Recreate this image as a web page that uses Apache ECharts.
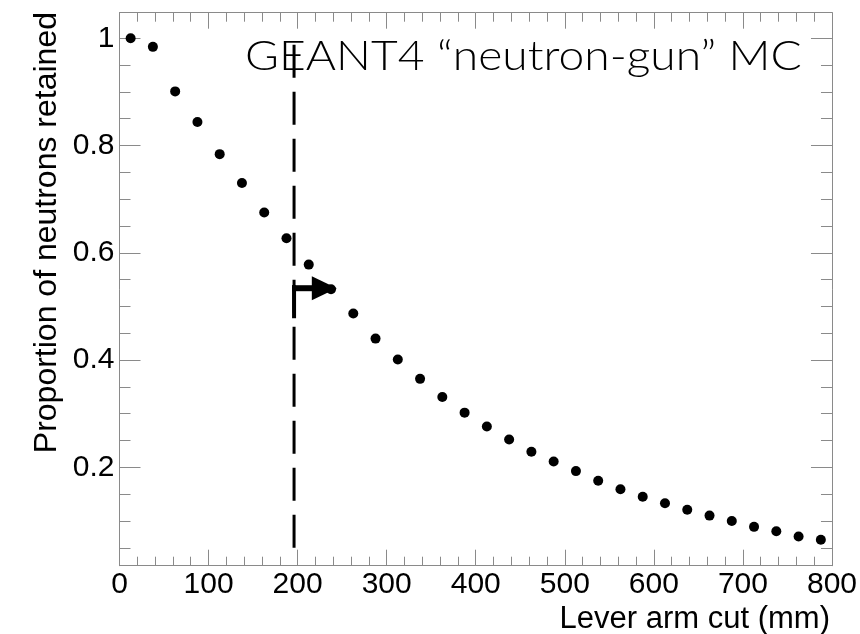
<!DOCTYPE html>
<html>
<head>
<meta charset="utf-8">
<script src="https://cdn.jsdelivr.net/npm/echarts@6/dist/echarts.min.js"></script>
<style>
  html, body { margin: 0; padding: 0; background: #fff; }
  #chart { width: 860px; height: 634px; }
</style>
</head>
<body>
<div id="chart"></div>
<script>
// Lever-arm cut (bin centres, mm) and fraction of neutrons kept
var cutValues = [12.5, 37.5, 62.5, 87.5, 112.5, 137.5, 162.5, 187.5, 212.5, 237.5,
                 262.5, 287.5, 312.5, 337.5, 362.5, 387.5, 412.5, 437.5, 462.5, 487.5,
                 512.5, 537.5, 562.5, 587.5, 612.5, 637.5, 662.5, 687.5, 712.5, 737.5,
                 762.5, 787.5];
var retained = [1.000, 0.984, 0.901, 0.844, 0.784, 0.730, 0.675, 0.627, 0.578, 0.532,
                0.487, 0.440, 0.401, 0.365, 0.331, 0.302, 0.276, 0.252, 0.229, 0.211,
                0.193, 0.175, 0.159, 0.145, 0.133, 0.121, 0.110, 0.100, 0.089, 0.081,
                0.071, 0.065];

// Axis ranges and tick positions
var xRange = [0, 800];
var yRange = [0.0166, 1.0477];
var yMajorTicks = [0.2, 0.4, 0.6, 0.8, 1.0];
var yMinorTicks = [0.05, 0.1, 0.15, 0.25, 0.3, 0.35, 0.45, 0.5, 0.55,
                   0.65, 0.7, 0.75, 0.85, 0.9, 0.95];

// Chosen cut (dashed line) and arrow marking the accepted side
var cutLine = [[196, 0.05], [196, 1.01]];
var arrowPath = [[196, 0.478], [196, 0.534], [244, 0.534]];

var titleText = 'GEANT4 \u201Cneutron-gun\u201D MC';
var xTitle = 'Lever arm cut (mm)';
var yTitle = 'Proportion of neutrons retained';

var frameColor = '#8a8a8a';
var labelFont = 'Liberation Sans, Arial, Helvetica, sans-serif';

var chart = echarts.init(document.getElementById('chart'), null, { renderer: 'canvas' });

function xAxisDef(pos, showLabels) {
  return {
    type: 'value', position: pos, min: xRange[0], max: xRange[1], interval: 100,
    axisLine: { show: true, onZero: false, lineStyle: { color: frameColor, width: 1 } },
    axisTick: { show: true, inside: true, length: 16, lineStyle: { color: frameColor, width: 1 } },
    minorTick: { show: true, splitNumber: 5, length: 9, lineStyle: { color: frameColor, width: 1 } },
    axisLabel: { show: showLabels, margin: 4, color: '#000', fontSize: 30, fontFamily: labelFont },
    splitLine: { show: false }
  };
}

function yAxisDef(pos, ticks, len, showLine, showLabels) {
  return {
    type: 'value', position: pos, min: yRange[0], max: yRange[1],
    axisLine: { show: showLine, onZero: false, lineStyle: { color: frameColor, width: 1 } },
    axisTick: { show: true, inside: true, length: len, customValues: ticks,
                lineStyle: { color: frameColor, width: 1 } },
    axisLabel: { show: showLabels, customValues: ticks, margin: 5, color: '#000',
                 fontSize: 30, fontFamily: labelFont },
    splitLine: { show: false }
  };
}

var option = {
  backgroundColor: '#fff',
  animation: false,
  grid: { left: 119.5, right: 26.5, top: 12.7, bottom: 68.3, containLabel: false },
  xAxis: [xAxisDef('bottom', true), xAxisDef('top', false)],
  yAxis: [
    yAxisDef('left', yMajorTicks, 21, true, true),
    yAxisDef('left', yMinorTicks, 11, false, false),
    yAxisDef('right', yMajorTicks, 21, true, false),
    yAxisDef('right', yMinorTicks, 11, false, false)
  ],
  graphic: [
    {
      type: 'text', x: 245, y: 35, scaleX: 1.1, z: 10,
      style: { text: titleText, fontSize: 42, fontFamily: 'Lato, sans-serif',
               fontWeight: 300, fill: '#000', align: 'left', verticalAlign: 'top' }
    },
    {
      type: 'text', x: 830, y: 619, z: 10,
      style: { text: xTitle, fontSize: 31, fontFamily: labelFont, fill: '#000',
               align: 'right', verticalAlign: 'middle' }
    },
    {
      type: 'text', x: 47, y: 12, rotation: Math.PI / 2, z: 10,
      style: { text: yTitle, fontSize: 32, fontFamily: labelFont, fill: '#000',
               align: 'right', verticalAlign: 'middle' }
    }
  ],
  series: [
    {
      type: 'line', xAxisIndex: 0, yAxisIndex: 0,
      data: cutLine, showSymbol: false, silent: true, z: 3,
      lineStyle: { color: '#000', width: 3, type: [33, 14] }
    },
    {
      type: 'custom', xAxisIndex: 0, yAxisIndex: 0, silent: true, z: 4,
      data: [0],
      renderItem: function (params, api) {
        var pts = arrowPath.map(function (p) { return api.coord(p); });
        var corner = pts[1];
        var tip = pts[2];
        var headLen = 25, headHalf = 12;
        return {
          type: 'group',
          children: [
            { type: 'line', shape: { x1: pts[0][0], y1: pts[0][1], x2: corner[0], y2: corner[1] - 3 },
              style: { stroke: '#000', lineWidth: 4 } },
            { type: 'line', shape: { x1: corner[0] - 2, y1: corner[1], x2: tip[0] - headLen + 2, y2: tip[1] },
              style: { stroke: '#000', lineWidth: 6 } },
            { type: 'polygon',
              shape: { points: [[tip[0], tip[1]], [tip[0] - headLen, tip[1] - headHalf],
                                [tip[0] - headLen, tip[1] + headHalf]] },
              style: { fill: '#000' } }
          ]
        };
      }
    },
    {
      type: 'scatter', xAxisIndex: 0, yAxisIndex: 0, z: 5,
      data: cutValues.map(function (x, i) { return [x, retained[i]]; }),
      symbol: 'circle', symbolSize: 10,
      itemStyle: { color: '#000', opacity: 1 }
    }
  ]
};

chart.setOption(option);
</script>
</body>
</html>
